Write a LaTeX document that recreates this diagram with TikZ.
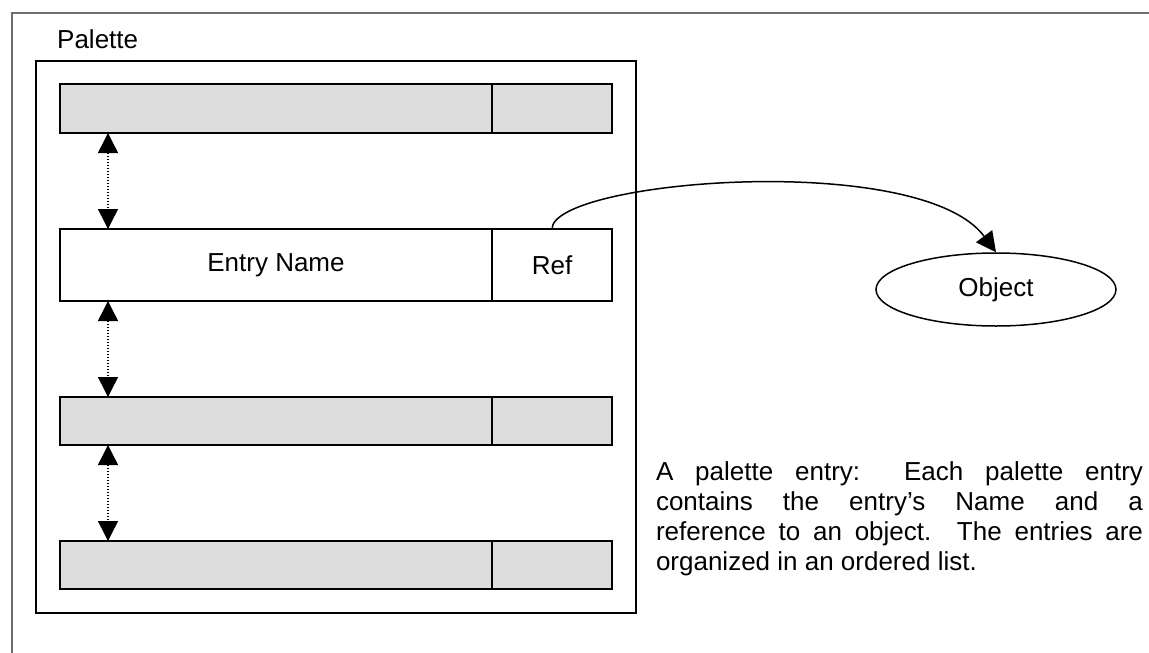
\documentclass[tikz,border=0pt]{standalone}
\usepackage{fontspec}
\setmainfont{Liberation Sans}
\usetikzlibrary{arrows.meta,shapes.geometric}
\definecolor{barfill}{HTML}{DDDDDD}
\definecolor{framegray}{HTML}{6E6E6E}
\tikzset{
  lbl/.style={font=\fontsize{26}{30}\selectfont},
  namebox/.style={draw=black, line width=2pt, inner sep=0pt, outer sep=0pt, minimum width=432pt, lbl},
  refbox/.style={draw=black, line width=2pt, inner sep=0pt, outer sep=0pt, minimum width=120pt, lbl},
  grayfill/.style={fill=barfill},
  dotarrow/.style={line width=1.5pt, dash pattern=on 1.5pt off 1.5pt,
    {Triangle[width=20pt,length=20pt]}-{Triangle[width=20pt,length=20pt]}},
  curvearrow/.style={line width=1.5pt, -{Triangle[width=20pt,length=20pt]}},
}
\begin{document}
\begin{tikzpicture}[x=1pt,y=-1pt]
\useasboundingbox (0,0) rectangle (1149,653);
\fill[white] (0,0) rectangle (1149,653);
% outer frame (top and left)
\draw[framegray, line width=1.5pt] (12,653) -- (12,13) -- (1149,13);
% palette box
\node[draw=black, line width=2pt, inner sep=0pt, outer sep=0pt, minimum width=600pt, minimum height=552pt] (palette) at (336,337) {};
\node[lbl, anchor=base west, inner sep=0pt] (paltitle) at (57,48) {Palette};
% bar 1
\node[namebox, grayfill, minimum height=49pt] (n1) at (276,108.5) {};
\node[refbox, grayfill, minimum height=49pt] (r1) at (552,108.5) {};
% bar 2
\node[namebox, minimum height=72pt] (n2) at (276,265) {Entry Name};
\node[refbox, minimum height=72pt] (r2) at (552,265) {Ref};
% bar 3
\node[namebox, grayfill, minimum height=48pt] (n3) at (276,421) {};
\node[refbox, grayfill, minimum height=48pt] (r3) at (552,421) {};
% bar 4
\node[namebox, grayfill, minimum height=48pt] (n4) at (276,565) {};
\node[refbox, grayfill, minimum height=48pt] (r4) at (552,565) {};
% dotted double arrows
\draw[dotarrow] ([xshift=48pt]n1.south west) -- ([xshift=48pt]n2.north west);
\draw[dotarrow] ([xshift=48pt]n2.south west) -- ([xshift=48pt]n3.north west);
\draw[dotarrow] ([xshift=48pt]n3.south west) -- ([xshift=48pt]n4.north west);
% object
\node[ellipse, draw=black, line width=1.5pt, inner sep=0pt, minimum width=240pt, minimum height=73pt, lbl] (obj) at (996,289.5) {Object};
\draw[curvearrow] (r2.north) .. controls (552,180) and (920,150) .. (obj.north);
% description
\node[anchor=base west, inner sep=0pt, outer sep=0pt] (desc) at (656,480) {\parbox[t]{487pt}{\fontsize{26}{30}\selectfont\noindent
\makebox[487pt][s]{A palette entry:\ \ Each palette entry}\\
\makebox[487pt][s]{contains the entry’s Name and a}\\
\makebox[487pt][s]{reference to an object.\ \ The entries are}\\
organized in an ordered list.}};
\end{tikzpicture}
\end{document}
